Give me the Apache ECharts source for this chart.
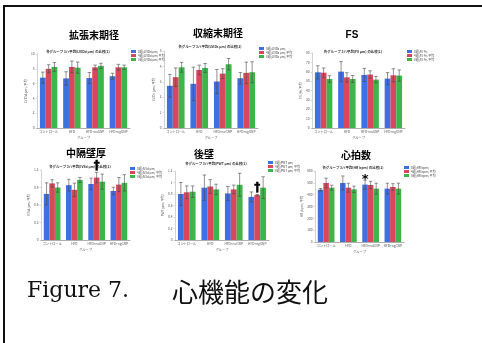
<!DOCTYPE html>
<html>
<head>
<meta charset="utf-8">
<script src="https://cdn.jsdelivr.net/npm/echarts@6/dist/echarts.min.js"></script>
<style>
html,body{margin:0;padding:0;background:#fff}
#c{width:482px;height:343px}
</style>
</head>
<body>
<div id="c"></div>
<script>
// Treatment groups (x categories, shared by all six panels)
const groups = ['コントロール', 'HFD', 'HFD+noGNP', 'HFD+ngGNP'];

// Time points shown in each legend (blue, red, green)
const lviddLegend = ['0週(LVIDd μm)', '4週(LVIDd μm) 平均', '8週(LVIDd μm) 平均'];
const lvidsLegend = ['0週(LVIDs μm)', '4週(LVIDs μm) 平均', '8週(LVIDs μm) 平均'];
const fsLegend = ['0週(FS %)', '4週(FS %) 平均', '8週(FS %) 平均'];
const ivsLegend = ['0週(IVSd μm)', '4週(IVSd μm) 平均', '8週(IVSd μm) 平均'];
const pwtLegend = ['0週(PWT μm)', '4週(PWT μm) 平均', '8週(PWT μm) 平均'];
const hrLegend = ['0週(HR bpm)', '4週(HR bpm) 平均', '8週(HR bpm) 平均'];

// Means per time point [0週, 4週, 8週], each across the four groups
const lviddMeans = [[6.8, 6.7, 6.75, 7.0], [8.0, 8.25, 8.2, 8.2], [8.25, 8.15, 8.4, 8.2]];
const lviddSds = [[0.75, 0.9, 0.75, 0.4], [0.55, 0.8, 0.3, 0.4], [0.6, 0.75, 0.35, 0.3]];

const lvidsMeans = [[2.74, 2.87, 3.02, 3.23], [3.3, 3.77, 3.53, 3.58], [3.94, 3.9, 4.14, 3.62]];
const lvidsSds = [[0.74, 1.08, 0.78, 0.37], [0.6, 0.31, 0.32, 0.7], [0.32, 0.29, 0.37, 0.68]];

const fsMeans = [[59.4, 60.1, 56.6, 52.7], [59.0, 54.0, 57.0, 56.2], [52.3, 52.3, 51.6, 55.9]];
const fsSds = [[7.0, 10.7, 7.0, 6.4], [5.0, 5.0, 4.0, 7.0], [3.5, 3.7, 3.4, 6.0]];

const ivsMeans = [[0.79, 0.94, 0.96, 0.84], [0.97, 0.86, 1.07, 0.95], [0.9, 1.03, 1.0, 0.98]];
const ivsSds = [[0.19, 0.1, 0.1, 0.064], [0.064, 0.115, 0.09, 0.12], [0.08, 0.043, 0.13, 0.14]];

const pwtMeans = [[0.8, 0.91, 0.81, 0.75], [0.83, 0.93, 0.88, 0.78], [0.84, 0.88, 0.96, 0.91]];
const pwtSds = [[0.2, 0.22, 0.12, 0.086], [0.11, 0.12, 0.075, 0.012], [0.1, 0.09, 0.2, 0.19]];

const hrMeans = [[442, 499, 485, 451], [499, 459, 482, 465], [459, 445, 451, 451]];
const hrSds = [[10, 59, 38, 46], [41, 38, 31, 28], [21, 27, 46, 46]];

// Significance marks: [panel, group, time point, symbol]
const sigMarks = [[3, 2, 1, '†'], [4, 3, 1, '†'], [5, 2, 0, '*']];

const barColors = ['#3f6fe0', '#d9475c', '#3db54a'];
const catGap = 0.25;

const panels = [
  {title: '拡張末期径', sub: '各グループ 3ハ平均(LVIDd μm) の比較(1)', yName: 'LVIDd (μm) 平均',
   legend: lviddLegend, means: lviddMeans, sds: lviddSds, max: 10, step: 2,
   grid: {left: 37, top: 54, width: 93, height: 74}, t: [94, 35], s: [78, 52], lg: [131, 50]},
  {title: '収縮末期径', sub: '各グループ 3ハ平均(LVIDs μm) の比較(1)', yName: 'LVIDs (μm) 平均',
   legend: lvidsLegend, means: lvidsMeans, sds: lvidsSds, max: 5, step: 1,
   grid: {left: 164, top: 51, width: 94, height: 77}, t: [218, 33], s: [210, 47], lg: [259, 47]},
  {title: 'FS', sub: '各グループ 3ハ平均(FS μm) の比較(1)', yName: 'FS (%) 平均',
   legend: fsLegend, means: fsMeans, sds: fsSds, max: 80, step: 10,
   grid: {left: 312, top: 53, width: 93, height: 75}, t: [352, 35], s: [353, 52], lg: [407, 50]},
  {title: '中隔壁厚', sub: '各グループ 3ハ平均(IVSd μm) の比較(1)', yName: 'IVSd (μm) 平均',
   legend: ivsLegend, means: ivsMeans, sds: ivsSds, max: 1.2, step: 0.3,
   grid: {left: 41, top: 170, width: 89, height: 70}, t: [86, 153], s: [80, 167], lg: [130, 167]},
  {title: '後壁', sub: '各グループ 3ハ平均(PWT μm) の比較(1)', yName: 'PWT (μm) 平均',
   legend: pwtLegend, means: pwtMeans, sds: pwtSds, max: 1.2, step: 0.2,
   grid: {left: 175, top: 171, width: 94, height: 69}, t: [204, 154], s: [216, 164], lg: [268, 161]},
  {title: '心拍数', sub: '各グループ 3ハ平均(HR bpm) の比較(1)', yName: 'HR (bpm) 平均',
   legend: hrLegend, means: hrMeans, sds: hrSds, max: 600, step: 100,
   grid: {left: 315, top: 171, width: 89, height: 71}, t: [356, 155], s: [353, 168], lg: [404, 166]}
];

const cjk = "'Noto Sans CJK JP', sans-serif";

// Whisker for bar k of a category, using the axis band width
function whisker(k) {
  return function (params, api) {
    const c = api.value(0);
    const band = api.size([1, 0])[0];
    const bw = band * (1 - catGap) / 3;
    const base = api.coord([c, api.value(1)]);
    const x = base[0] + (k - 1) * bw;
    const y1 = base[1];
    const y2 = api.coord([c, api.value(2)])[1];
    const cap = bw * 0.3;
    const st = {stroke: '#4a4a4a', lineWidth: 0.6};
    return {type: 'group', children: [
      {type: 'line', shape: {x1: x, y1: y1, x2: x, y2: y2}, style: st},
      {type: 'line', shape: {x1: x - cap, y1: y1, x2: x + cap, y2: y1}, style: st},
      {type: 'line', shape: {x1: x - cap, y1: y2, x2: x + cap, y2: y2}, style: st}
    ]};
  };
}

const option = {
  animation: false,
  textStyle: {fontFamily: cjk},
  grid: [], xAxis: [], yAxis: [], legend: [], series: [], graphic: []
};

panels.forEach(function (p, i) {
  option.grid.push(Object.assign({containLabel: false}, p.grid));
  option.xAxis.push({
    type: 'category', gridIndex: i, data: groups,
    name: 'グループ', nameLocation: 'middle', nameGap: 8,
    nameTextStyle: {fontSize: 3.2, color: '#555'},
    axisLine: {lineStyle: {color: '#9a9a9a', width: 0.8}},
    axisTick: {show: false},
    axisLabel: {fontSize: 3.2, color: '#555', margin: 2.5, interval: 0}
  });
  option.yAxis.push({
    type: 'value', gridIndex: i, min: 0, max: p.max, interval: p.step,
    name: p.yName, nameLocation: 'middle', nameGap: 9, nameRotate: 90,
    nameTextStyle: {fontSize: 3.2, color: '#555'},
    axisLine: {show: true, lineStyle: {color: '#b5b5b5', width: 0.6}},
    axisTick: {show: true, length: 1.5, lineStyle: {color: '#b5b5b5', width: 0.5}},
    splitLine: {show: false},
    axisLabel: {fontSize: 3.2, color: '#555', margin: 2.5}
  });
  option.legend.push({
    left: p.lg[0], top: p.lg[1], orient: 'vertical', padding: 0,
    itemWidth: 5, itemHeight: 3, itemGap: 1, icon: 'rect',
    textStyle: {fontSize: 3, color: '#444', padding: [0, 0, 0, -3]},
    data: p.legend
  });
  for (let k = 0; k < 3; k++) {
    option.series.push({
      type: 'bar', name: p.legend[k], xAxisIndex: i, yAxisIndex: i,
      barGap: '0%', barCategoryGap: (catGap * 100) + '%',
      itemStyle: {color: barColors[k]},
      data: p.means[k]
    });
  }
  for (let k = 0; k < 3; k++) {
    option.series.push({
      type: 'custom', xAxisIndex: i, yAxisIndex: i, z: 5,
      renderItem: whisker(k),
      encode: {x: 0, y: [1, 2]},
      data: p.means[k].map(function (m, c) { return [c, m - p.sds[k][c], m + p.sds[k][c]]; })
    });
  }
  option.graphic.push({
    type: 'text', x: p.t[0], y: p.t[1],
    style: {text: p.title, fill: '#000', align: 'center', verticalAlign: 'middle',
      font: 'bold 10px ' + (p.title === 'FS' ? '"Liberation Sans", sans-serif' : cjk)}
  });
  option.graphic.push({
    type: 'text', x: p.s[0], y: p.s[1],
    style: {text: p.sub, fill: '#333', align: 'center', verticalAlign: 'middle',
      font: 'bold 3.4px ' + cjk}
  });
});

// Frame and figure caption
option.graphic.push(
  {type: 'rect', shape: {x: 3, y: 5, width: 479, height: 2}, style: {fill: '#111'}},
  {type: 'rect', shape: {x: 3, y: 5, width: 2, height: 338}, style: {fill: '#111'}},
  {type: 'text', x: 27, y: 291,
   style: {text: 'Figure 7.', fill: '#111', align: 'left', verticalAlign: 'middle',
     font: '22px "DejaVu Serif", serif'}},
  {type: 'text', x: 172, y: 292,
   style: {text: '心機能の変化', fill: '#111', align: 'left', verticalAlign: 'middle',
     font: '26px ' + cjk}}
);

const chart = echarts.init(document.getElementById('c'), null, {renderer: 'canvas'});
chart.setOption(option);

// Significance symbols: placed above the marked whisker using each panel's own axes
const markElems = sigMarks.map(function (m) {
  const i = m[0], c = m[1], k = m[2];
  const p = panels[i];
  const top = p.means[k][c] + p.sds[k][c];
  const x0 = chart.convertToPixel({xAxisIndex: i}, 0);
  const x1 = chart.convertToPixel({xAxisIndex: i}, 1);
  const bw = (x1 - x0) * (1 - catGap) / 3;
  const pt = chart.convertToPixel({xAxisIndex: i, yAxisIndex: i}, [c, top]);
  const star = m[3] === '*';
  return {type: 'text', z: 20, x: pt[0] + (k - 1) * bw, y: star ? pt[1] : pt[1] - 0.5,
    style: {text: m[3], fill: '#000', stroke: '#000', lineWidth: star ? 0 : 0.4,
      font: 'bold ' + (star ? 13 : 12) + 'px "DejaVu Sans", sans-serif',
      align: 'center', verticalAlign: star ? 'middle' : 'bottom'}};
});
chart.setOption({graphic: option.graphic.concat(markElems)});
</script>
</body>
</html>
